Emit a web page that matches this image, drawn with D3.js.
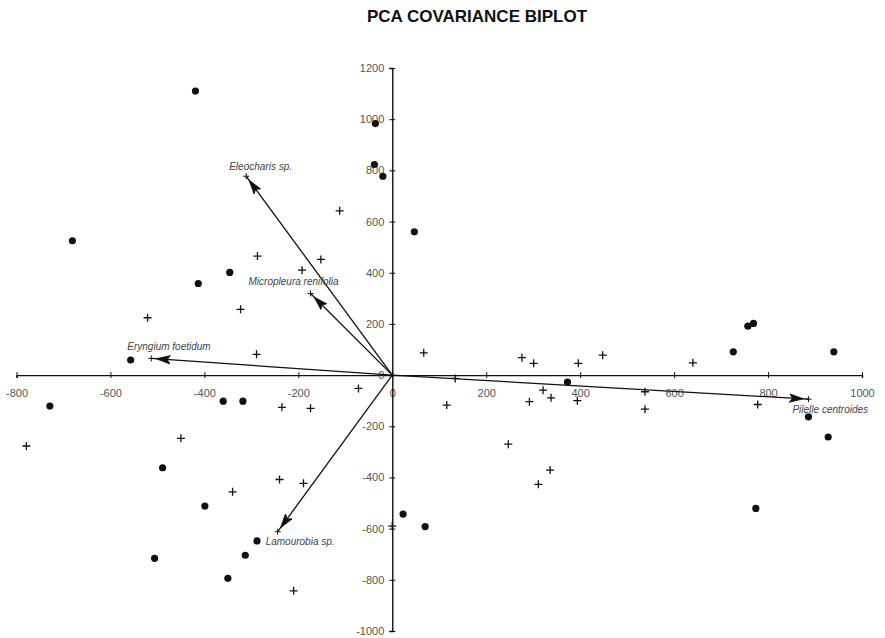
<!DOCTYPE html>
<html>
<head>
<meta charset="utf-8">
<script src="https://cdn.jsdelivr.net/npm/d3@7"></script>
<style>
  html, body { margin: 0; padding: 0; background: #fff; }
  svg { display: block; font-family: "Liberation Sans", Arial, sans-serif; }
  .tick text { fill: #555; font-size: 11px; }
  .axis path, .axis line { stroke: #111; }
  .var-label { font-size: 10px; font-style: italic; fill: #444; }
</style>
</head>
<body>
<div id="chart"></div>
<script>
'use strict';

// ---- data ----
const xTicks = [-800, -600, -400, -200, 0, 200, 400, 600, 800, 1000];
const yTicks = [-1000, -800, -600, -400, -200, 0, 200, 400, 600, 800, 1000, 1200];

// observations, group 1 (filled dots)
const dotPoints = [
  [-419, 1110], [-36, 983], [-38, 823], [-20, 777], [-681, 525], [-346, 401],
  [-413, 358], [47, 560], [-557, 59], [-729, -121], [-360, -102], [-318, -102],
  [373, -27], [726, 91], [757, 191], [769, 202], [940, 91], [886, -163],
  [928, -242], [774, -521], [-489, -362], [-399, -512], [-288, -648],
  [-313, -704], [-506, -716], [-350, -794], [23, -543], [70, -592]
];

// observations, group 2 (crosses)
const crossPoints = [
  [-287, 465], [-323, 257], [-521, 224], [-289, 81], [-235, -126], [-112, 642],
  [-152, 452], [-192, 410], [67, 87], [-72, -52], [-174, -130], [134, -13],
  [116, -117], [276, 68], [301, 46], [396, 46], [321, -59], [292, -104],
  [338, -89], [394, -100], [448, 78], [640, 48], [538, -65], [538, -133],
  [778, -115], [-779, -277], [-450, -247], [-340, -456], [-240, -408],
  [-210, -843], [-189, -423], [247, -270], [336, -371], [311, -427], [0, -590]
];

// variable vectors
const varNames = ['Eleocharis sp.', 'Micropleura renifolia', 'Eryngium foetidum', 'Lamourobia sp.', 'Pilelle centroides'];
const varX = [-311, -174, -513, -244, 886];
const varY = [777, 319, 65, -612, -94];

// label placement relative to the arrow tip (px)
const labelDx = [-17, -62, -24, -12, -16];
const labelDy = [-6, -8, -8, 13, 14];

// ---- layout ----
const width = 885, height = 638;

const svg = d3.select('#chart').append('svg')
  .attr('width', width)
  .attr('height', height);

const x = d3.scaleLinear().domain([-800, 1000]).range([16.5, 862]);
const y = d3.scaleLinear().domain([-1000, 1200]).range([631, 68]);

// title
svg.append('text')
  .attr('x', 477)
  .attr('y', 21.5)
  .attr('text-anchor', 'middle')
  .style('font-size', '17px')
  .style('font-weight', 'bold')
  .style('fill', '#111')
  .text('PCA COVARIANCE BIPLOT');

// arrowhead
svg.append('defs').append('marker')
  .attr('id', 'head')
  .attr('markerUnits', 'userSpaceOnUse')
  .attr('viewBox', '0 -6 24 12')
  .attr('refX', 19)
  .attr('refY', 0)
  .attr('markerWidth', 24)
  .attr('markerHeight', 12)
  .attr('orient', 'auto')
  .append('path')
  .attr('d', 'M0,-4.2L14,0L0,4.2L3,0Z')
  .attr('fill', '#111')
  .attr('stroke', '#111')
  .attr('stroke-width', 0.8);

const plain = d => String(d);

// axes crossing at the origin
const xAxis = svg.append('g')
  .attr('class', 'axis')
  .attr('transform', `translate(0,${y(0)})`)
  .call(d3.axisBottom(x).tickValues(xTicks).tickFormat(plain).tickSizeOuter(0).tickSize(3).tickPadding(11));
xAxis.select('.domain').attr('stroke-width', 1.4);
xAxis.selectAll('.tick line').attr('y1', -3).attr('y2', 3);

const yAxis = svg.append('g')
  .attr('class', 'axis')
  .attr('transform', `translate(${x(0)},0)`)
  .call(d3.axisLeft(y).tickValues(yTicks).tickFormat(plain).tickSizeOuter(0).tickSize(3).tickPadding(5));
yAxis.select('.domain').attr('stroke-width', 1.4);
yAxis.selectAll('.tick line').attr('x1', -3).attr('x2', 3);

// observations
svg.append('g')
  .selectAll('circle')
  .data(dotPoints)
  .join('circle')
  .attr('cx', d => x(d[0]))
  .attr('cy', d => y(d[1]))
  .attr('r', 3.6)
  .attr('fill', '#111');

const cross = 4;
svg.append('g')
  .selectAll('path')
  .data(crossPoints)
  .join('path')
  .attr('d', d => {
    const cx = x(d[0]), cy = y(d[1]);
    return `M${cx - cross},${cy}H${cx + cross}M${cx},${cy - cross}V${cy + cross}`;
  })
  .attr('stroke', '#111')
  .attr('stroke-width', 1.3)
  .attr('fill', 'none');

// variable arrows
const vars = varNames.map((name, i) => ({ name, vx: varX[i], vy: varY[i], dx: labelDx[i], dy: labelDy[i] }));

const vg = svg.append('g').selectAll('g').data(vars).join('g');

vg.append('line')
  .attr('x1', x(0))
  .attr('y1', y(0))
  .attr('x2', d => x(d.vx))
  .attr('y2', d => y(d.vy))
  .attr('stroke', '#111')
  .attr('stroke-width', 1.3)
  .attr('marker-end', 'url(#head)');

vg.append('path')
  .attr('d', d => {
    const cx = x(d.vx), cy = y(d.vy), s = 3;
    return `M${cx - s},${cy}H${cx + s}M${cx},${cy - s}V${cy + s}`;
  })
  .attr('stroke', '#111')
  .attr('stroke-width', 1);

vg.append('text')
  .attr('class', 'var-label')
  .attr('x', d => x(d.vx) + d.dx)
  .attr('y', d => y(d.vy) + d.dy)
  .text(d => d.name);
</script>
</body>
</html>
